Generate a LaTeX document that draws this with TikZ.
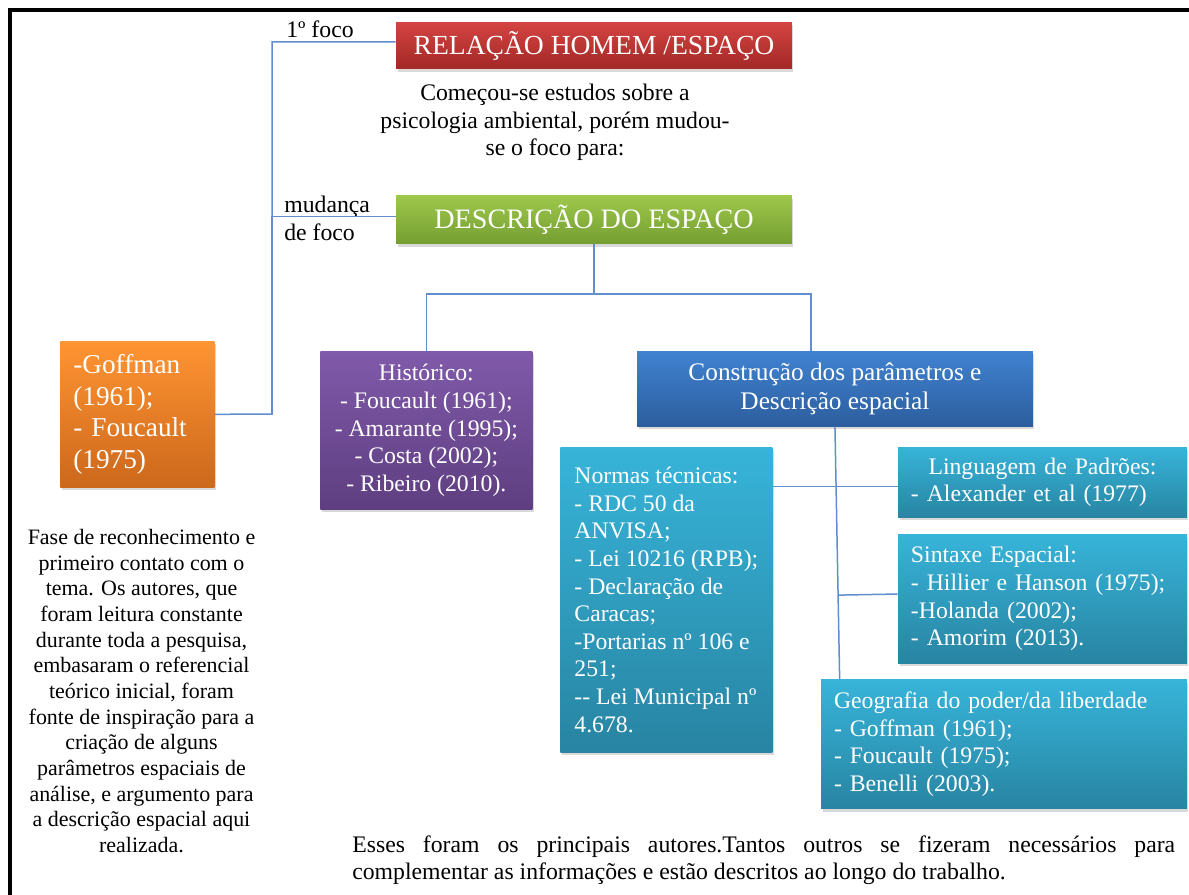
\documentclass[tikz,border=0pt]{standalone}
\usepackage{fontspec}
\setmainfont{Liberation Serif}
\usetikzlibrary{positioning, shadows, calc}
\definecolor{linkblue}{RGB}{98,141,206}
\definecolor{redtop}{RGB}{211,68,66}
\definecolor{redbot}{RGB}{163,40,38}
\definecolor{greentop}{RGB}{157,200,75}
\definecolor{greenbot}{RGB}{117,158,50}
\definecolor{orangetop}{RGB}{255,148,50}
\definecolor{orangebot}{RGB}{204,104,28}
\definecolor{purpletop}{RGB}{128,90,170}
\definecolor{purplebot}{RGB}{94,62,128}
\definecolor{bluetop}{RGB}{64,130,208}
\definecolor{bluebot}{RGB}{44,94,158}
\definecolor{tealtop}{RGB}{55,180,217}
\definecolor{tealbot}{RGB}{40,132,162}
\tolerance=9999

\begin{document}
\begin{tikzpicture}[
  x=0.02cm, y=-0.02cm,
  box/.style={rectangle, inner sep=0pt, text=white, align=center, font=\fontsize{13.5}{15.7}\selectfont,
    drop shadow={opacity=0.3, shadow xshift=0.03cm, shadow yshift=-0.06cm}},
  title/.style={box, minimum width=7.92cm, font=\fontsize{16}{19}\selectfont},
  redbox/.style={top color=redtop, bottom color=redbot},
  greenbox/.style={top color=greentop, bottom color=greenbot},
  orangebox/.style={top color=orangetop, bottom color=orangebot},
  purplebox/.style={top color=purpletop, bottom color=purplebot},
  bluebox/.style={top color=bluetop, bottom color=bluebot},
  tealbox/.style={top color=tealtop, bottom color=tealbot},
  note/.style={inner sep=0pt, align=center, font=\fontsize{13.5}{15.6}\selectfont},
  link/.style={draw=linkblue, line width=0.03cm},
]
  \useasboundingbox (0,0) rectangle (1189,895);
  % Frame
  \draw[line width=0.08cm] (10,895) -- (10,10.5) -- (1189,10.5);

  % Focus change (top)
  \node[title, redbox, minimum height=0.94cm, font=\fontsize{15.7}{19}\selectfont] (relacao) at (594,45.5) {RELAÇÃO HOMEM /ESPAÇO};
  \node[title, greenbox, minimum height=0.96cm, below=2.52cm of relacao] (descricao) {DESCRIÇÃO DO ESPAÇO};
  \node[note, anchor=north] (intro) at (555,84) {Começou-se estudos sobre a\\psicologia ambiental, porém mudou-\\se o foco para:};
  \node[note, anchor=base west] (foco1) at (286,38) {1º foco};
  \node[note, align=left, anchor=north west] (mudanca) at (284,196) {mudança\\de foco};

  % Authors (left)
  \node[box, orangebox, anchor=north west, minimum width=3.08cm, minimum height=2.92cm, text width=2.56cm,
        align=left, font=\fontsize{15.5}{17.9}\selectfont] (goffman) at (60,341) {-Goffman\\(1961);\\- Foucault\\(1975)};
  \node[note, anchor=north, font=\fontsize{12.5}{14.6}\selectfont] (fase) at (141.5,529)
    {Fase de reconhecimento e\\primeiro contato com o\\tema. Os autores, que\\foram leitura constante\\durante toda a pesquisa,\\embasaram o referencial\\teórico inicial, foram\\fonte de inspiração para a\\criação de alguns\\parâmetros espaciais de\\análise, e argumento para\\a descrição espacial aqui\\realizada.};

  % Description branches
  \node[box, purplebox, anchor=north west, minimum width=4.24cm, minimum height=3.16cm] (historico) at (320,351)
    {Histórico:\\- Foucault (1961);\\- Amarante (1995);\\- Costa (2002);\\- Ribeiro (2010).};
  \node[box, bluebox, minimum width=7.92cm, minimum height=1.5cm, font=\fontsize{14.4}{16}\selectfont,
        right=2.08cm of historico.north east, anchor=north west] (construcao) {Construção dos parâmetros e\\Descrição espacial};
  \node[box, tealbox, anchor=north west, minimum width=4.24cm, minimum height=6.1cm, align=left] (normas) at (560,447)
    {Normas técnicas:\\- RDC 50 da\\ANVISA;\\- Lei 10216 (RPB);\\- Declaração de\\Caracas;\\-Portarias nº 106 e\\251;\\-{}- Lei Municipal nº\\4.678.};
  \node[box, tealbox, minimum width=5.78cm, minimum height=1.4cm, text width=5.26cm, align=left,
        right=2.5cm of normas.north east, anchor=north west] (linguagem) {\makebox[5.26cm]{Linguagem de Padrões:}\\- Alexander et al (1977)};
  \node[box, tealbox, minimum width=5.78cm, minimum height=2.58cm, text width=5.26cm, align=left,
        below=0.32cm of linguagem] (sintaxe) {Sintaxe Espacial:\\- Hillier e Hanson (1975);\\-Holanda (2002);\\- Amorim (2013).};
  \node[box, tealbox, minimum width=7.32cm, minimum height=2.58cm, text width=6.8cm, align=left,
        below=0.32cm of sintaxe.south east, anchor=north east] (geografia) {Geografia do poder/da liberdade\\- Goffman (1961);\\- Foucault (1975);\\- Benelli (2003).};

  \node[note, anchor=north west, text width=16.46cm, align=justify] (fechamento) at (352,835)
    {Esses foram os principais autores.Tantos outros se fizeram necessários para\linebreak complementar as informações e estão descritos ao longo do trabalho.};

  % Connectors
  \coordinate (spine) at (272,414);
  \draw[link] (goffman.east) -- (spine) |- ([yshift=0.07cm]relacao.west);
  \draw[link] (spine) |- ([yshift=0.06cm]descricao.west);
  \coordinate (fork) at ($(descricao.south)+(0,50)$);
  \draw[link] (descricao.south) -- (fork) -| (historico.north);
  \draw[link] (fork) -| ([xshift=-0.48cm]construcao.north);
  \coordinate (geotop) at ([xshift=0.38cm]geografia.north west);
  \draw[link] (construcao.south) -- (geotop);
  \draw[link] ([yshift=-0.08cm]linguagem.west) -- ([yshift=-0.08cm]linguagem.west -| normas.east);
  \draw[link] ([yshift=0.09cm]sintaxe.west) -- ($(construcao.south)!([yshift=0.09cm]sintaxe.west)!(geotop)$);
\end{tikzpicture}
\end{document}
